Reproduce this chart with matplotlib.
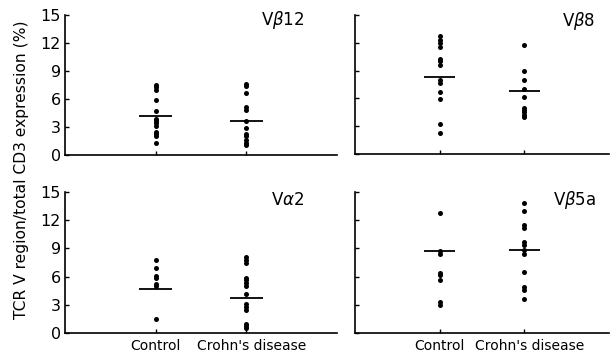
import matplotlib
matplotlib.use("Agg")
import matplotlib.pyplot as plt
from matplotlib.transforms import ScaledTranslation

categories = ["Control", "Crohn's disease"]
panel_labels = ["V$\\beta$12", "V$\\beta$8", "V$\\alpha$2", "V$\\beta$5a"]

vb12_control = [7.5, 7.3, 7.0, 5.9, 4.7, 3.9, 3.6, 3.4, 3.1, 2.5, 2.2, 2.0, 1.3]
vb12_crohn = [7.6, 7.4, 6.6, 5.1, 4.8, 3.6, 2.9, 2.3, 2.0, 1.6, 1.3, 1.1]
vb8_control = [12.7, 12.3, 12.0, 11.6, 10.2, 10.0, 9.6, 8.0, 7.7, 6.7, 5.9, 3.2, 2.3]
vb8_crohn = [11.8, 9.0, 8.0, 7.0, 6.1, 5.0, 4.7, 4.5, 4.2, 4.0]
va2_control = [7.8, 6.9, 6.1, 5.9, 5.2, 5.0, 1.5]
va2_crohn = [8.1, 7.8, 7.4, 5.9, 5.6, 5.3, 5.0, 4.2, 3.1, 2.8, 2.5, 1.0, 0.7, 0.5]
vb5a_control = [12.8, 8.7, 8.4, 6.4, 6.2, 5.6, 3.3, 3.0]
vb5a_crohn = [13.8, 13.0, 11.5, 11.2, 9.7, 9.4, 8.8, 8.4, 6.5, 4.9, 4.6, 3.6]

means = [(4.2, 3.6), (8.3, 6.8), (4.7, 3.7), (8.7, 8.8)]
panel_data = [(vb12_control, vb12_crohn), (vb8_control, vb8_crohn),
              (va2_control, va2_crohn), (vb5a_control, vb5a_crohn)]
y_ticks = [0, 3, 6, 9, 12, 15]

W, H = 611, 356
fig = plt.figure(figsize=(W / 100, H / 100), dpi=100)
plt.rcParams['font.family'] = ['DejaVu Sans']

def px_axes(left, right, top, bottom):
    return fig.add_axes([left / W, (H - bottom) / H, (right - left) / W, (bottom - top) / H])

boxes = [(65, 337, 15, 155), (355, 609, 15, 154),
         (65, 337, 192, 333), (355, 609, 192, 333)]
label_pos = [(0.88, 0.964), (0.945, 0.955), (0.88, 0.945), (0.95, 0.945)]

for i, (box, (c, d), (mc, md), lab, lp) in enumerate(zip(boxes, panel_data, means, panel_labels, label_pos)):
    ax = px_axes(*box)
    ax.set_xlim(0, 3)
    ax.set_ylim(0, 15)
    ax.plot([1] * len(c), c, 'o', color='black', ms=3.6, mew=0, clip_on=False)
    ax.plot([2] * len(d), d, 'o', color='black', ms=3.6, mew=0, clip_on=False)
    ax.hlines([mc], 1 - 0.18, 1 + 0.18, color='black', lw=1.3)
    ax.hlines([md], 2 - 0.18, 2 + 0.18, color='black', lw=1.3)
    for s in ['top', 'right']:
        ax.spines[s].set_visible(False)
    for s in ['left', 'bottom']:
        ax.spines[s].set_linewidth(1.2)
    ax.set_yticks(y_ticks)
    ax.set_xticks([1, 2])
    ax.tick_params(direction='in', length=3, width=1.0, labelsize=11.5, pad=3)
    if i % 2 == 0:
        ax.set_yticklabels([str(v) for v in y_ticks])
    else:
        ax.set_yticklabels([])
    if i >= 2:
        ax.set_xticklabels(categories, fontsize=10)
        ax.tick_params(axis='x', pad=4)
        tl = ax.get_xticklabels()
        tl[1].set_transform(tl[1].get_transform() + ScaledTranslation(5 / 100, 0, fig.dpi_scale_trans))
    else:
        ax.set_xticklabels([])
    ax.text(lp[0], lp[1], lab, transform=ax.transAxes, ha='right', va='center', fontsize=12)

fig.text(22 / W, (H - 170) / H, "TCR V region/total CD3 expression (%)", rotation=90,
         ha='center', va='center', fontsize=11.2)

fig.savefig("out.png", dpi=100)
